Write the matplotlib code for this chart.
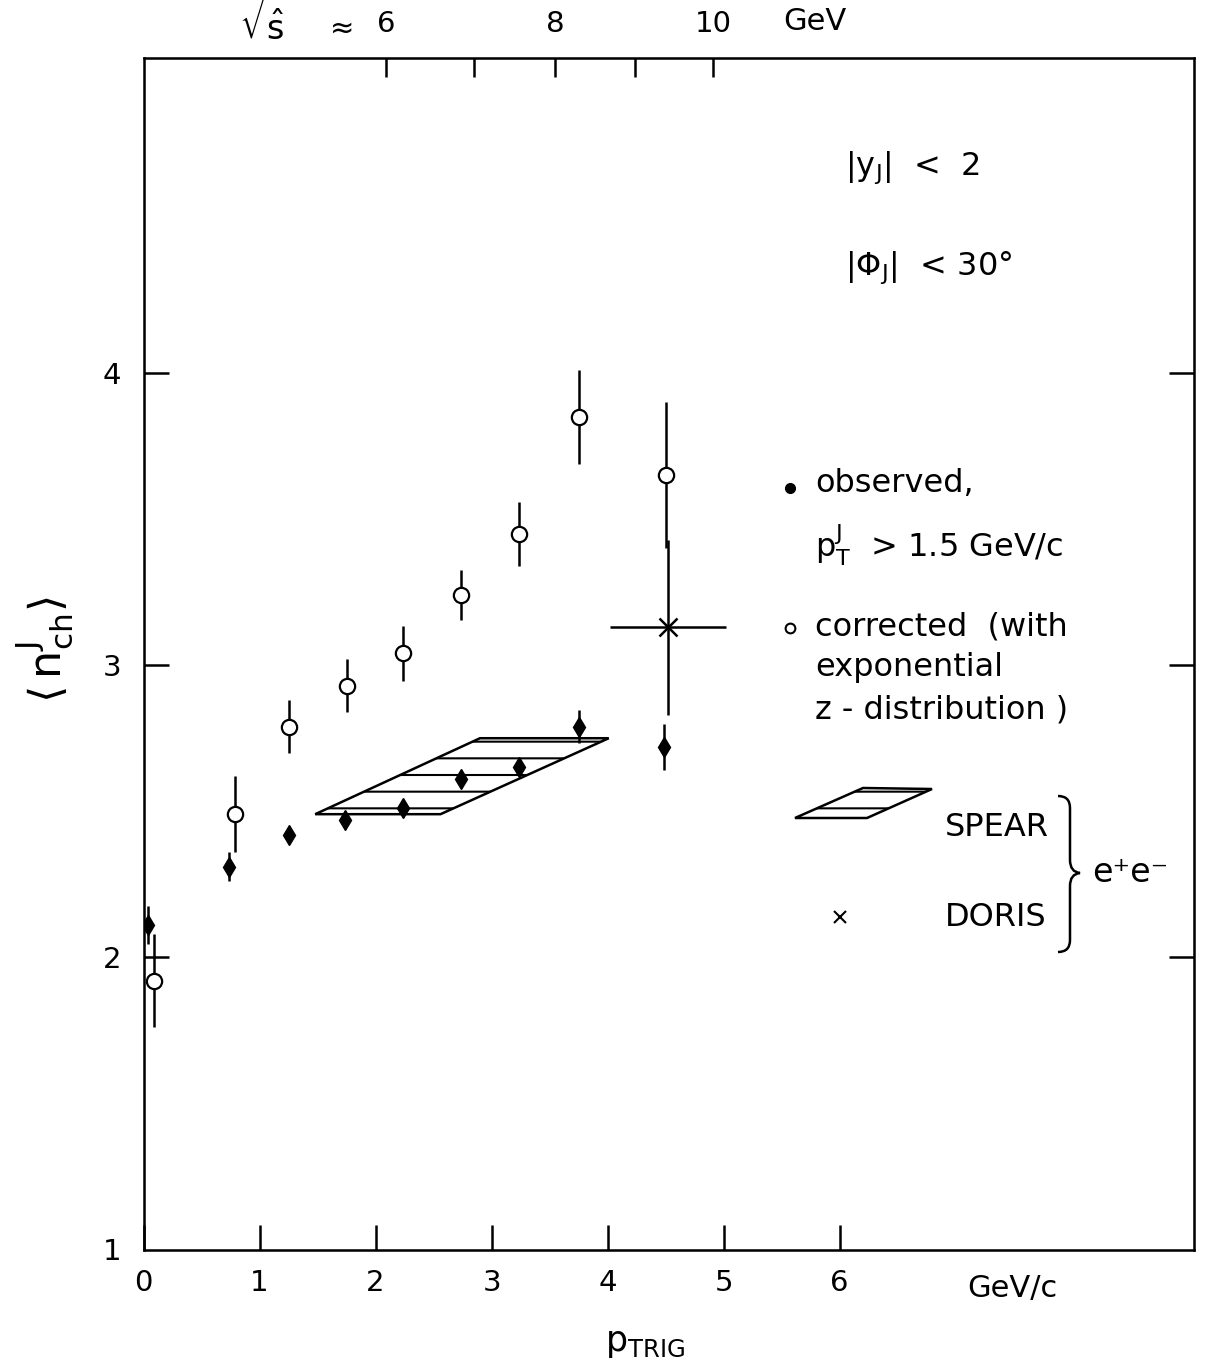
import matplotlib.pyplot as plt
from matplotlib.lines import Line2D
from matplotlib.patches import Polygon, PathPatch
from matplotlib.path import Path

plt.rcParams['font.family'] = ['DejaVu Sans']
plt.rcParams['mathtext.fontset'] = 'dejavusans'
plt.rcParams['hatch.linewidth'] = 1.5

# mean charged multiplicity in the jet vs trigger momentum
p_obs = [0.04, 0.74, 1.25, 1.74, 2.24, 2.74, 3.24, 3.75, 4.49]
n_obs = [2.11, 2.31, 2.42, 2.47, 2.51, 2.61, 2.65, 2.79, 2.72]
err_obs = [0.065, 0.05, 0.02, 0.03, 0.03, 0.03, 0.03, 0.055, 0.08]

p_cor = [0.09, 0.79, 1.25, 1.75, 2.24, 2.74, 3.24, 3.75, 4.50]
n_cor = [1.92, 2.49, 2.79, 2.93, 3.04, 3.24, 3.45, 3.85, 3.65]
err_cor = [0.16, 0.13, 0.09, 0.09, 0.095, 0.085, 0.11, 0.16, 0.25]

# e+e- reference data
spear_p = [1.48, 2.90, 4.01, 2.56]
spear_n = [2.49, 2.75, 2.75, 2.49]
doris_p = [4.52]
doris_n = [3.13]
doris_perr = [0.5]
doris_nerr = [0.30]

# sqrt(s-hat) scale along the top
rs_pos = [2.09, 2.85, 3.55, 4.24, 4.91]
rs_lab = ['6', '', '8', '', '10']

W, H = 1212, 1371
fig = plt.figure(figsize=(W / 100, H / 100), dpi=100)
ax = fig.add_axes([143.5 / W, 1 - 1249.5 / H, 1050 / W, 1192 / H])
ax.set_xlim(0, 9.05)
ax.set_ylim(1, 5.08)


def pg(px, py):
    return px / W, 1 - py / H


for s in ax.spines.values():
    s.set_linewidth(1.8)

ax.set_xticks(range(7))
ax.set_xticklabels([str(i) for i in range(7)])
ax.set_yticks([1, 2, 3, 4])
ax.set_yticklabels(['1', '2', '3', '4'])
ax.tick_params(axis='x', direction='in', length=18, width=1.8, pad=14,
               labelsize=21, top=False)
ax.tick_params(axis='y', direction='in', length=18, width=1.8, pad=16,
               labelsize=21, right=True)
# no marks in the corners
xt0 = ax.xaxis.get_major_ticks()[0]
xt0.tick1line.set_visible(False)
yt0 = ax.yaxis.get_major_ticks()[0]
yt0.tick1line.set_visible(False)
yt0.tick2line.set_visible(False)

ax2 = ax.twiny()
ax2.set_xlim(ax.get_xlim())
ax2.set_xticks(rs_pos)
ax2.set_xticklabels(rs_lab)
ax2.tick_params(axis='x', direction='in', length=14, width=1.8, pad=14,
                labelsize=21)

# SPEAR band
ax.add_patch(Polygon(list(zip(spear_p, spear_n)), closed=True, fill=False,
                     edgecolor='black', lw=1.8, hatch='-'))

# DORIS
ax.errorbar(doris_p, doris_n, xerr=doris_perr, yerr=doris_nerr, fmt='x',
            color='black', ms=13, mew=1.8, elinewidth=1.8, capsize=0)

ax.errorbar(p_obs, n_obs, yerr=err_obs, fmt='d', color='black', ms=10,
            elinewidth=1.8, capsize=0, zorder=4)
ax.errorbar(p_cor, n_cor, yerr=err_cor, fmt='o', color='black', mfc='white',
            ms=11, mew=1.6, elinewidth=1.8, capsize=0, zorder=4)

# cuts
fig.text(*pg(845, 168), r'$|\mathrm{y_J}|$  <  2', fontsize=23, va='center')
fig.text(*pg(845, 268), r'$|\Phi_\mathrm{J}|$  < 30°', fontsize=23, va='center')

# key
fig.add_artist(Line2D(*zip(pg(790, 488)), transform=fig.transFigure,
                      marker='o', color='black', ms=7))
fig.text(*pg(815, 483), 'observed,', fontsize=23, va='center')
fig.text(*pg(815, 545), r'$\mathrm{p^J_T}$  > 1.5 GeV/c', fontsize=23,
         va='center')
fig.add_artist(Line2D(*zip(pg(790, 628)), transform=fig.transFigure,
                      marker='o', color='black', mfc='white', ms=7, mew=1.5))
fig.text(*pg(815, 627), 'corrected  (with', fontsize=23, va='center')
fig.text(*pg(815, 667), 'exponential', fontsize=23, va='center')
fig.text(*pg(815, 710), 'z - distribution )', fontsize=23, va='center')

fig.add_artist(Polygon([pg(795, 818), pg(863, 788), pg(932, 789), pg(867, 818)],
                       closed=True, fill=False, edgecolor='black', lw=1.8,
                       hatch='-', transform=fig.transFigure))
fig.text(*pg(945, 827), 'SPEAR', fontsize=23, va='center')
fig.add_artist(Line2D(*zip(pg(840, 917)), transform=fig.transFigure,
                      marker='x', color='black', ms=8, mew=1.5))
fig.text(*pg(945, 917), 'DORIS', fontsize=23, va='center')

# brace joining SPEAR and DORIS
brace = Path([pg(1058, 796), pg(1070, 796), pg(1070, 808), pg(1070, 860),
              pg(1070, 872), pg(1080, 873), pg(1070, 874), pg(1070, 886),
              pg(1070, 940), pg(1070, 952), pg(1058, 952)],
             [Path.MOVETO, Path.CURVE3, Path.CURVE3, Path.LINETO,
              Path.CURVE3, Path.CURVE3, Path.CURVE3, Path.CURVE3,
              Path.LINETO, Path.CURVE3, Path.CURVE3])
fig.add_artist(PathPatch(brace, fill=False, lw=1.8, transform=fig.transFigure))
fig.text(*pg(1092, 873), 'e\u207ae\u207b', fontsize=24, va='center')

# axis titles
fig.text(*pg(265, 22), r'$\sqrt{\hat{\mathrm{s}}}$', fontsize=24, ha='center',
         va='center')
fig.text(*pg(338, 28), r'$\approx$', fontsize=21, ha='center', va='center')
fig.text(*pg(815, 22), 'GeV', fontsize=22, ha='center', va='center')
fig.text(*pg(1012, 1288), 'GeV/c', fontsize=22, ha='center', va='center')
fig.text(*pg(645, 1343), r'$\mathrm{p_{TRIG}}$', fontsize=25, ha='center',
         va='center')
fig.text(*pg(45, 650), r'$\langle\,\mathrm{n^J_{ch}}\rangle$', fontsize=32,
         rotation=90, ha='center', va='center')

fig.savefig('out.png', dpi=100)
